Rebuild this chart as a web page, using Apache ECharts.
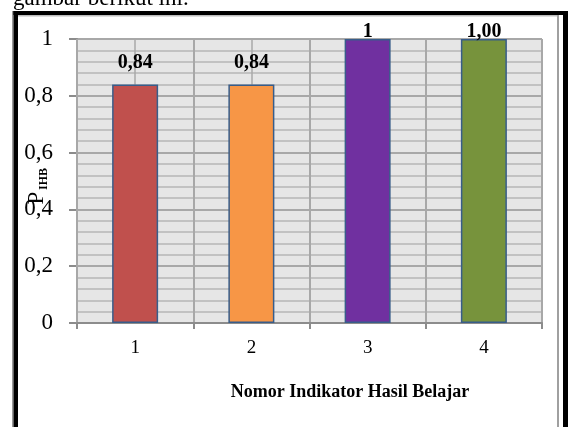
<!DOCTYPE html>
<html>
<head>
<meta charset="utf-8">
<script src="https://cdn.jsdelivr.net/npm/echarts@6/dist/echarts.min.js"></script>
<style>
  html, body { margin: 0; padding: 0; background: #fff; }
  #chart { width: 568px; height: 427px; }
</style>
</head>
<body>
<div id="chart"></div>
<script>
// Indicator numbers and their P_IHB scores
const categories = ['1', '2', '3', '4'];
const values = [0.84, 0.84, 1, 1];
const valueLabels = ['0,84', '0,84', '1', '1,00'];
const barColors = ['#C0504D', '#F79646', '#7030A0', '#77933C'];
const yTickValues = [0, 0.2, 0.4, 0.6, 0.8, 1];

const SERIF = 'Liberation Serif';
const gridColor = '#A8A8A8';

const chart = echarts.init(document.getElementById('chart'), null, { renderer: 'canvas' });

const labelDistances = [12, 12, -3, -3];

chart.setOption({
  animation: false,
  backgroundColor: '#ffffff',
  grid: {
    left: 77, right: 26, top: 39, bottom: 104,
    show: true, backgroundColor: '#E6E6E6', borderWidth: 0
  },
  xAxis: [
    {
      type: 'category',
      data: categories,
      boundaryGap: true,
      axisLine: { show: true, lineStyle: { color: '#8C8C8C', width: 2 } },
      axisTick: { show: true, length: 6, inside: false, lineStyle: { color: '#8C8C8C', width: 2 } },
      axisLabel: { margin: 16, fontFamily: SERIF, fontSize: 19, color: '#000' },
      splitLine: { show: true, lineStyle: { color: gridColor, width: 2 } },
      z: 3
    },
    {
      // helper axis for the vertical lines through each category centre
      type: 'value',
      min: 0, max: 4, interval: 0.5,
      position: 'top',
      axisLine: { show: false }, axisTick: { show: false }, axisLabel: { show: false },
      splitLine: { show: true, lineStyle: { color: gridColor, width: 1.5 } },
      z: 2
    }
  ],
  yAxis: {
    type: 'value',
    min: 0, max: 1, interval: 0.2,
    axisLine: { show: true, lineStyle: { color: '#8C8C8C', width: 2 } },
    axisTick: { show: true, length: 8, lineStyle: { color: '#8C8C8C', width: 2 } },
    axisLabel: {
      margin: 24, fontFamily: SERIF, fontSize: 23, color: '#000',
      formatter: v => {
        const t = yTickValues.find(x => Math.abs(x - v) < 1e-9);
        return String(t !== undefined ? t : v).replace('.', ',');
      }
    },
    splitLine: { show: true, lineStyle: { color: gridColor, width: 2 } },
    minorTick: { show: false, splitNumber: 5 },
    minorSplitLine: { show: true, lineStyle: { color: '#B6B6B6', width: 1.5 } }
  },
  series: [{
    type: 'bar',
    xAxisIndex: 0,
    barWidth: 46,
    z: 5,
    data: values.map((v, i) => ({
      value: v,
      itemStyle: { color: barColors[i], borderColor: '#385D8A', borderWidth: 1.5 },
      label: { distance: labelDistances[i] }
    })),
    label: {
      show: true,
      position: 'top',
      fontFamily: SERIF,
      fontWeight: 'bold',
      fontSize: 20,
      color: '#000',
      formatter: p => valueLabels[p.dataIndex]
    }
  }],
  graphic: [
    // heading text of the page above the frame
    { type: 'text', left: 13, top: -13, z: 10,
      style: { text: 'gambar berikut ini.', font: '23px "Liberation Serif"', fill: '#000' } },
    // frame around the chart
    { type: 'rect', shape: { x: 12, y: 11, width: 556, height: 4 }, style: { fill: '#000' }, z: 10 },
    { type: 'rect', shape: { x: 12, y: 11, width: 1.5, height: 416 }, style: { fill: '#9A9A9A' }, z: 10 },
    { type: 'rect', shape: { x: 13.5, y: 11, width: 4.5, height: 416 }, style: { fill: '#000' }, z: 10 },
    { type: 'rect', shape: { x: 563, y: 11, width: 5, height: 416 }, style: { fill: '#000' }, z: 10 },
    { type: 'rect', shape: { x: 18, y: 15, width: 541, height: 1.5 }, style: { fill: '#BDBDBD' }, z: 10 },
    { type: 'rect', shape: { x: 557, y: 15, width: 2, height: 412 }, style: { fill: '#A0A0A0' }, z: 10 },
    // axis titles
    { type: 'text', x: 37, y: 198, rotation: Math.PI / 2, z: 10,
      style: { text: 'P', font: '23px "Liberation Serif"', fill: '#000', align: 'center', verticalAlign: 'middle' } },
    { type: 'text', x: 44, y: 179, rotation: Math.PI / 2, z: 10,
      style: { text: 'IHB', font: 'bold 12px "Liberation Serif"', fill: '#000', align: 'center', verticalAlign: 'middle' } },
    { type: 'text', x: 350, y: 392, z: 10,
      style: { text: 'Nomor Indikator Hasil Belajar', font: 'bold 18px "Liberation Serif"', fill: '#000', align: 'center', verticalAlign: 'middle' } }
  ]
});
</script>
</body>
</html>
